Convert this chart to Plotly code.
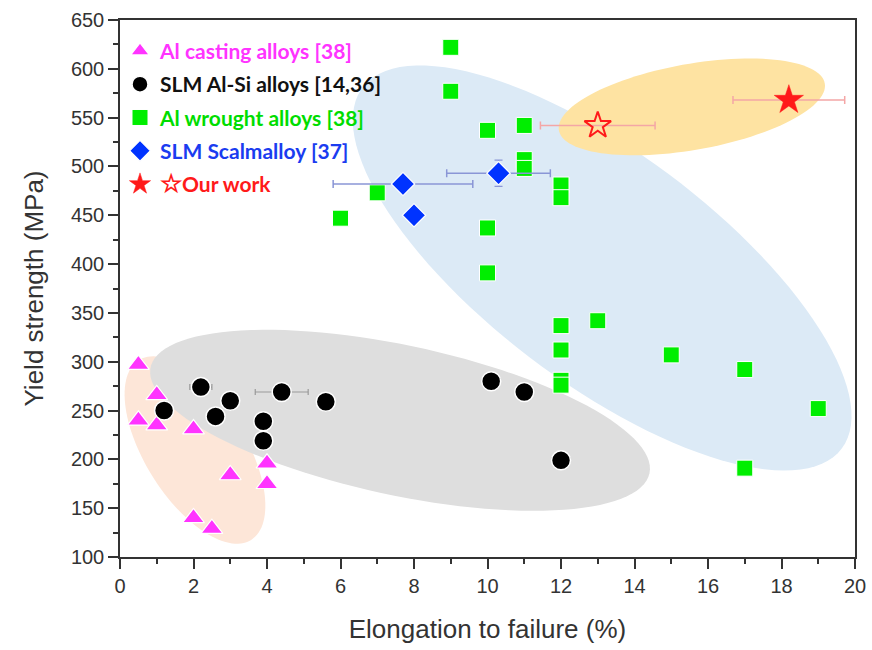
import numpy as np
import plotly.graph_objects as go

# ---------------- data ----------------
cast_x = [0.5, 1.0, 0.5, 1.0, 2.0, 3.0, 4.0, 4.0, 2.0, 2.5]
cast_y = [297, 266, 240, 235, 231, 184, 196, 175, 140, 129]

alsi_x = [1.2, 2.2, 2.6, 3.0, 3.9, 3.9, 4.4, 5.6, 10.1, 11.0, 12.0]
alsi_y = [250, 274, 244, 260, 239, 219, 269, 259, 280, 269, 199]
alsi_err = [0, 0.3, 0, 0, 0, 0, 0.72, 0, 0, 0, 0]

wrought_x = [9, 9, 10, 11, 11, 11, 12, 12, 6, 7, 10, 10, 12, 13, 12, 12, 12, 15, 17, 19, 17]
wrought_y = [622, 577, 537, 542, 507, 498, 481, 468, 447, 473, 437, 391, 337, 342, 312, 281, 276, 307, 292, 252, 191]

scal_x = [7.7, 8.0, 10.3]
scal_y = [482, 450, 493]
scal_xerr = [1.9, 0, 1.41]
scal_yerr = [0, 0, 13.5]

ours_open_x = [13.0]
ours_open_y = [542]
ours_open_err = [1.56]
ours_fill_x = [18.2]
ours_fill_y = [568]
ours_fill_err = [1.52]

x_range = [0, 20]
y_range = [100, 650]

# ---------------- layout geometry ----------------
W, H = 872, 650
ml, mr, mt, mb = 120, 17, 20, 93
kx = (W - ml - mr) / (x_range[1] - x_range[0])
ky = (H - mt - mb) / (y_range[1] - y_range[0])


def ellipse_path(cx, cy, a, b, ang):
    t = np.linspace(0, 2 * np.pi, 120)
    th = np.radians(ang)
    dx = a * np.cos(t) * np.cos(th) - b * np.sin(t) * np.sin(th)
    dy = a * np.cos(t) * np.sin(th) + b * np.sin(t) * np.cos(th)
    xs = cx + dx / kx
    ys = cy - dy / ky
    p = "M %.4f,%.4f " % (xs[0], ys[0])
    p += " ".join("L %.4f,%.4f" % (u, v) for u, v in zip(xs[1:], ys[1:]))
    return p + " Z"


# ellipses: (center x, center y, semi-major px, semi-minor px, angle, colour)
ellipses = [
    (13.12, 396, 300, 115, 37, "#dceaf6"),
    (15.56, 561, 135, 43, -10, "#fee3a2"),
    (2.04, 209.6, 106, 50, 58, "#fde6d8"),
    (7.62, 240, 255, 75, 12, "#dedede"),
]

fig = go.Figure()

for cx, cy, a, b, ang, col in ellipses:
    fig.add_shape(type="path", path=ellipse_path(cx, cy, a, b, ang),
                  fillcolor=col, line=dict(width=0), layer="below",
                  xref="x", yref="y")

lgfont = "Lato, 'Open Sans', sans-serif"

fig.add_trace(go.Scatter(
    x=cast_x, y=cast_y, mode="markers", legendgroup="a",
    name="<b><span style='color:#ff33ff'>Al casting alloys [38]</span></b>",
    marker=dict(symbol="triangle-up", size=19, color="#ff33ff",
                line=dict(color="white", width=1.2))))

fig.add_trace(go.Scatter(
    x=alsi_x, y=alsi_y, mode="markers", legendgroup="b",
    name="<b><span style='color:#111111'>SLM Al-Si alloys [14,36]</span></b>",
    error_x=dict(type="data", array=alsi_err, color="#999999", thickness=1.2, width=3),
    marker=dict(symbol="circle", size=19, color="black",
                line=dict(color="white", width=1.5))))

fig.add_trace(go.Scatter(
    x=wrought_x, y=wrought_y, mode="markers", legendgroup="c",
    name="<b><span style='color:#00dd00'>Al wrought alloys [38]</span></b>",
    marker=dict(symbol="square", size=16, color="#00ee00",
                line=dict(color="white", width=1))))

fig.add_trace(go.Scatter(
    x=scal_x, y=scal_y, mode="markers", legendgroup="d",
    name="<b><span style='color:#1a3cf0'>SLM Scalmalloy [37]</span></b>",
    error_x=dict(type="data", array=scal_xerr, color="#8a96d6", thickness=1.5, width=4),
    error_y=dict(type="data", array=scal_yerr, color="#8a96d6", thickness=1.2, width=4),
    marker=dict(symbol="diamond", size=18, color="#0033ff",
                line=dict(color="white", width=1.2))))

fig.add_trace(go.Scatter(
    x=ours_open_x, y=ours_open_y, mode="markers", showlegend=False,
    name="Our work (open)",
    error_x=dict(type="data", array=ours_open_err, color="#f4a6a6", thickness=1.5, width=4),
    marker=dict(symbol="star-open", size=20, color="#ff1a1a",
                line=dict(color="#ff1a1a", width=2))))

fig.add_trace(go.Scatter(
    x=ours_fill_x, y=ours_fill_y, mode="markers", legendgroup="e",
    name="<b><span style='color:#ff1a1a'><span style='font-size:25px'>☆</span>Our work</span></b>",
    error_x=dict(type="data", array=ours_fill_err, color="#f4a6a6", thickness=1.5, width=4),
    marker=dict(symbol="star", size=22, color="#ff1a1a",
                line=dict(color="#ff1a1a", width=0.5))))

axis_common = dict(
    showline=True, linecolor="#333333", linewidth=1.5, mirror=True,
    ticks="outside", ticklen=10, tickwidth=1.5, tickcolor="#333333",
    showgrid=False, zeroline=False, automargin=False,
    tickfont=dict(family="Liberation Sans, Arial, sans-serif", size=20, color="#333333"),
)

fig.update_xaxes(range=x_range, dtick=2, tick0=0,
                 minor=dict(ticks="outside", dtick=1, ticklen=5, tickwidth=1.5, tickcolor="#333333"),
                 title=dict(text="Elongation to failure (%)", standoff=24,
                            font=dict(family="Liberation Sans, Arial, sans-serif", size=26, color="#333333")),
                 **axis_common)
fig.update_yaxes(range=y_range, dtick=50, tick0=100,
                 minor=dict(ticks="outside", dtick=25, ticklen=5, tickwidth=1.5, tickcolor="#333333"),
                 title=dict(text="Yield strength (MPa)", standoff=20,
                            font=dict(family="Liberation Sans, Arial, sans-serif", size=26, color="#333333")),
                 **axis_common)

fig.update_layout(
    width=W, height=H,
    margin=dict(l=ml, r=mr, t=mt, b=mb),
    paper_bgcolor="white", plot_bgcolor="white",
    legend=dict(x=0.0, y=0.98, xanchor="left", yanchor="top",
                bgcolor="rgba(0,0,0,0)", font=dict(family=lgfont, size=21),
                tracegroupgap=3, itemsizing="trace"),
)

fig.write_html("out.html", config={"displayModeBar": False},
               post_script="document.body.style.margin='0';")
